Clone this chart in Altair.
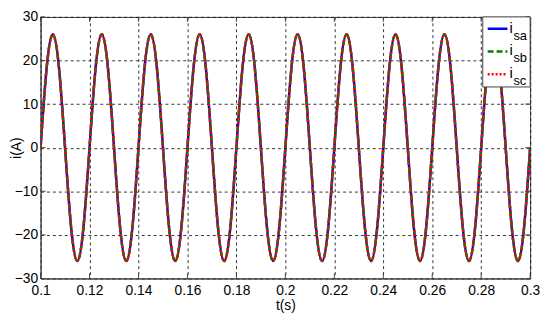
import altair as alt
import pandas as pd

# time grid (s), sampled every 1/8 period of the 50 Hz current
t_start, t_step, n_pts = 0.1, 0.0025, 81
t = [round(t_start + k * t_step, 4) for k in range(n_pts)]

# phase currents (A); the three traces coincide
isa = [
    0, 18.4, 26, 18.4, 0, -18.4, -26, -18.4,
    0, 18.4, 26, 18.4, 0, -18.4, -26, -18.4,
    0, 18.4, 26, 18.4, 0, -18.4, -26, -18.4,
    0, 18.4, 26, 18.4, 0, -18.4, -26, -18.4,
    0, 18.4, 26, 18.4, 0, -18.4, -26, -18.4,
    0, 18.4, 26, 18.4, 0, -18.4, -26, -18.4,
    0, 18.4, 26, 18.4, 0, -18.4, -26, -18.4,
    0, 18.4, 26, 18.4, 0, -18.4, -26, -18.4,
    0, 18.4, 26, 18.4, 0, -18.4, -26, -18.4,
    0, 18.4, 26, 18.4, 0, -18.4, -26, -18.4,
    0,
]
isb = list(isa)
isc = list(isa)

x_ticks = [0.1, 0.12, 0.14, 0.16, 0.18, 0.2, 0.22, 0.24, 0.26, 0.28, 0.3]
y_ticks = [-30, -20, -10, 0, 10, 20, 30]

W, H = 496, 265
FONT = "Liberation Sans"

df = pd.DataFrame({"t": t, "isa": isa, "isb": isb, "isc": isc})

xs = alt.Scale(domain=[0.1, 0.3], nice=False, zero=False)
ys = alt.Scale(domain=[-30, 30], nice=False)

x_axis = alt.Axis(values=x_ticks, title="t(s)", format="~g", grid=True,
                  labelFontSize=14, titleFontSize=14, labelFont=FONT, titleFont=FONT,
                  labelColor="black", titleColor="black", titleFontWeight="normal",
                  tickSize=0, labelPadding=5, titlePadding=1,
                  gridColor="black", gridDash=[3, 3], gridOpacity=0.8,
                  domainColor="#444", labelFlush=False)
y_axis = alt.Axis(values=y_ticks, title="i(A)", grid=True,
                  labelFontSize=14, titleFontSize=14, labelFont=FONT, titleFont=FONT,
                  labelColor="black", titleColor="black", titleFontWeight="normal",
                  tickSize=0, labelPadding=3, titleX=-17,
                  gridColor="black", gridDash=[3, 3], gridOpacity=0.8,
                  domainColor="#444", labelFlush=False)

base = alt.Chart(df)

def trace(col, color, dash):
    kw = dict(color=color, strokeWidth=2.5, interpolate="natural", clip=True)
    if dash:
        kw["strokeDash"] = dash
    return base.mark_line(**kw).encode(
        x=alt.X("t:Q", scale=xs, axis=x_axis),
        y=alt.Y(f"{col}:Q", scale=ys, axis=y_axis),
    )

l_a = trace("isa", "#0000FF", None)
l_b = trace("isb", "#008000", [6, 3])
l_c = trace("isc", "#FF0000", [2, 2])

# inward tick marks (MATLAB style)
xt = pd.DataFrame({"v": x_ticks})
yt = pd.DataFrame({"v": y_ticks})
tk = dict(color="#444", strokeWidth=1)
xt_bot = alt.Chart(xt).mark_rule(**tk).encode(x=alt.X("v:Q", scale=xs), y=alt.value(H), y2=alt.value(H - 5))
xt_top = alt.Chart(xt).mark_rule(**tk).encode(x=alt.X("v:Q", scale=xs), y=alt.value(0), y2=alt.value(5))
yt_l = alt.Chart(yt).mark_rule(**tk).encode(y=alt.Y("v:Q", scale=ys), x=alt.value(0), x2=alt.value(5))
yt_r = alt.Chart(yt).mark_rule(**tk).encode(y=alt.Y("v:Q", scale=ys), x=alt.value(W), x2=alt.value(W - 5))

# legend box
one = pd.DataFrame({"k": [0]})
leg_box = alt.Chart(one).mark_rect(fill="white", stroke="#444", strokeWidth=1).encode(
    x=alt.value(448), x2=alt.value(W), y=alt.value(0), y2=alt.value(71))

names = ["sa", "sb", "sc"]
colors = ["#0000FF", "#008000", "#FF0000"]
dashes = [[1, 0], [6, 3], [2, 2]]
leg_layers = [leg_box]
for i, (nm, c, d) in enumerate(zip(names, colors, dashes)):
    yy = 12 + i * 23
    leg_layers.append(alt.Chart(one).mark_rule(color=c, strokeWidth=2.5, strokeDash=d).encode(
        x=alt.value(453), x2=alt.value(473), y=alt.value(yy)))
    leg_layers.append(alt.Chart(one).mark_text(text="i", font=FONT, fontSize=15, align="left",
                                               baseline="alphabetic", color="black").encode(
        x=alt.value(475), y=alt.value(yy + 4)))
    leg_layers.append(alt.Chart(one).mark_text(text=nm, font=FONT, fontSize=13, align="left",
                                               baseline="alphabetic", color="black").encode(
        x=alt.value(479), y=alt.value(yy + 11)))

chart = alt.layer(l_a, l_b, l_c, xt_bot, xt_top, yt_l, yt_r, *leg_layers).properties(
    width=W, height=H,
    autosize=alt.AutoSizeParams(type="none"),
    padding={"left": 33, "top": 7, "right": 12, "bottom": 36},
).configure_view(stroke="#444", strokeWidth=1)

chart.save("out.html", embed_options={"renderer": "svg", "actions": False})
